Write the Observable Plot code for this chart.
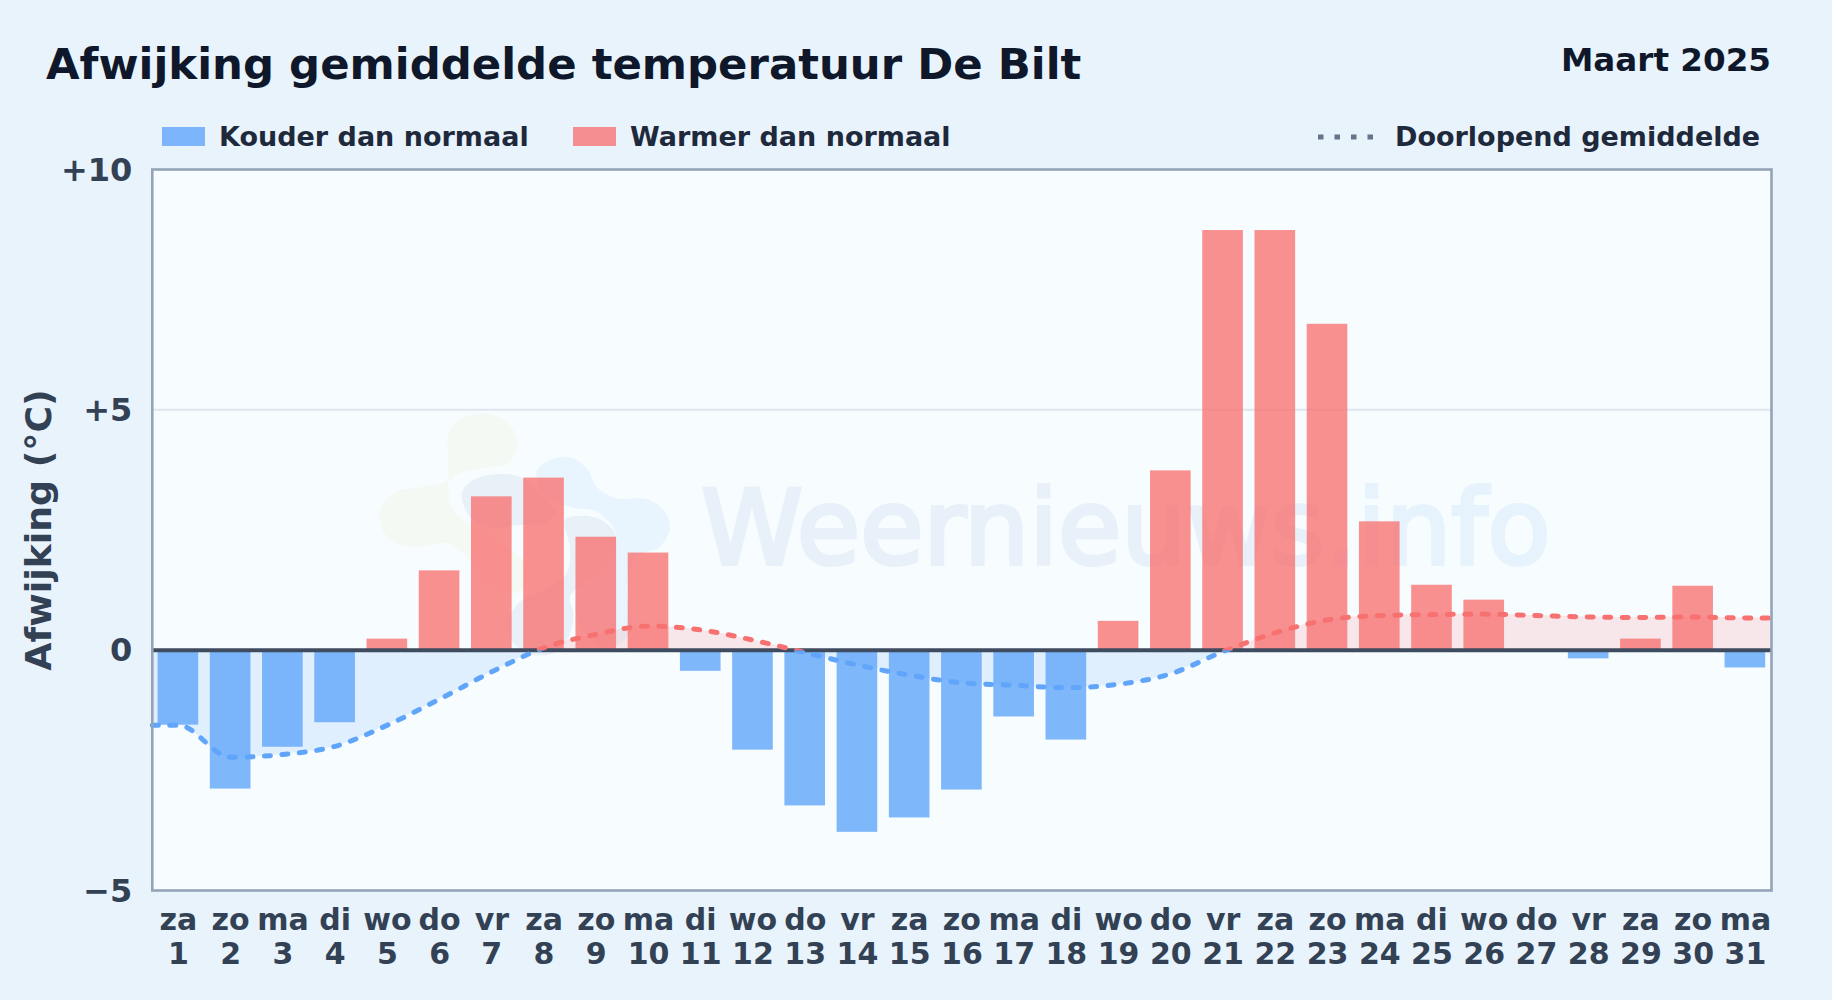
<!DOCTYPE html>
<html>
<head>
<meta charset="utf-8">
<script src="https://cdn.jsdelivr.net/npm/d3@7"></script>
<script src="https://cdn.jsdelivr.net/npm/@observablehq/plot@0.6"></script>
<style>
html,body{margin:0;padding:0;width:1832px;height:1000px;overflow:hidden;background:#e8f3fc;font-family:"DejaVu Sans",sans-serif;font-weight:700}
#head{position:relative;width:1832px;height:150px}
#head>*{position:absolute;white-space:nowrap}
#title{left:46px;top:39px;font-size:43.4px;line-height:50px;color:#0f172a}
#month{right:61px;top:41px;font-size:32.6px;line-height:38px;color:#0f172a}
.lg{top:120px;font-size:27px;line-height:34px;color:#1e293b}
.sw{top:127px;height:19px;width:43px}
#chart{position:absolute;left:0;top:150px}
svg{display:block}
</style>
</head>
<body>
<div id="head">
  <div id="title">Afwijking gemiddelde temperatuur De Bilt</div>
  <div id="month">Maart 2025</div>
  <div class="sw" style="left:162px;background:#60a5fa;opacity:.8"></div>
  <div class="lg" style="left:219px">Kouder dan normaal</div>
  <div class="sw" style="left:573px;background:#f87171;opacity:.78"></div>
  <div class="lg" style="left:630px">Warmer dan normaal</div>
  <svg style="left:1318px;top:130px" width="58" height="14"><line x1="0" x2="58" y1="7" y2="7" stroke="#64748b" stroke-width="5" stroke-dasharray="5.5,11"/></svg>
  <div class="lg" style="left:1395px">Doorlopend gemiddelde</div>
</div>
<div id="chart"></div>
<script>
const days = d3.range(1, 32);
const weekdays = ["za","zo","ma","di","wo","do","vr","za","zo","ma","di","wo","do","vr","za","zo","ma","di","wo","do","vr","za","zo","ma","di","wo","do","vr","za","zo","ma"];
const deviation = [-1.56,-2.89,-2.02,-1.51,0.23,1.65,3.19,3.58,2.35,2.02,-0.44,-2.08,-3.24,-3.79,-3.49,-2.91,-1.39,-1.87,0.60,3.73,8.73,8.73,6.78,2.67,1.35,1.04,0,-0.18,0.23,1.33,-0.37];
const running = [-1.56,-2.23,-2.17,-2.0,-1.56,-1.02,-0.45,0.05,0.33,0.5,0.42,0.21,-0.05,-0.31,-0.52,-0.68,-0.73,-0.78,-0.71,-0.49,-0.03,0.36,0.63,0.72,0.74,0.75,0.72,0.69,0.68,0.69,0.67];
const yTicks = [-5,0,5,10];

const bars = days.map((d,i)=>({day:d, value:deviation[i]}));
const runLine = [{day:0.5,value:running[0]}, ...days.map((d,i)=>({day:d,value:running[i]})), {day:31.5,value:running[30]}];

const BLUE="#60a5fa", RED="#f87171";

let clipN=0;
function side(sign){
  return function(index,scales,values,dims,ctx,next){
    const g = next(index,scales,values,dims,ctx);
    const id = "side"+(++clipN), y0 = scales.y(0);
    const top = sign>0 ? 0 : y0;
    const h = sign>0 ? y0 : dims.height-y0;
    const cp = d3.select(g).append("clipPath").attr("id",id);
    cp.append("rect").attr("x",0).attr("y",top).attr("width",dims.width).attr("height",h);
    g.setAttribute("clip-path",`url(#${id})`);
    return g;
  };
}

function watermark(){
  const g = d3.create("svg:g").attr("pointer-events","none");
  const blob = d3.line().curve(d3.curveCatmullRomClosed);
  const logo = g.append("g").attr("transform","translate(370,250) scale(0.3333)");
  const shapes = [
   ["#f4faf3",[[235,100],[270,58],[340,40],[410,65],[442,125],[420,185],[340,205],[280,215],[225,245],[150,262],[70,280],[28,340],[55,415],[135,442],[230,430],[290,470],[370,560],[450,575],[470,500],[350,400],[250,330],[235,170]]],
   ["#e8f5fe",[[500,215],[540,180],[600,172],[650,205],[680,260],[740,295],[830,298],[885,335],[900,385],[870,440],[800,470],[770,560],[780,700],[700,745],[620,650],[640,520],[740,420],[690,340],[600,320],[520,285]]],
   ["#e8f0f8",[[275,280],[310,240],[390,222],[460,235],[520,290],[560,340],[520,370],[440,375],[360,385],[300,350]]],
   ["#e8f0f8",[[585,360],[650,348],[710,370],[740,420],[700,500],[640,550],[600,590],[610,640],[600,700],[560,755],[490,765],[430,730],[415,670],[445,610],[520,570],[590,520],[600,440]]]
  ];
  for (const [c,p] of shapes) logo.append("path").attr("d",blob(p)).attr("fill",c);
  const t = g.append("text").attr("x",701).attr("y",414).attr("text-anchor","start").attr("font-size",103).attr("font-weight",400).attr("font-family","DejaVu Sans").attr("stroke-width",4);
  t.append("tspan").attr("fill","#e8f1f9").attr("stroke","#e8f1f9").text("Weernieuws");
  t.append("tspan").attr("fill","#e6f3fd").attr("stroke","#e6f3fd").text(".info");
  return g.node();
}

const plot = Plot.plot({
  width:1832, height:850,
  marginLeft:151.8, marginRight:61, marginTop:19, marginBottom:110,
  style:{background:"transparent",fontFamily:"DejaVu Sans",overflow:"visible"},
  x:{type:"linear",domain:[0.5,31.5]},
  y:{domain:[-5,10]},
  marks:[
    Plot.frame({fill:"#f7fcff",stroke:null}),
    Plot.ruleY([5],{stroke:"#e0e6ed",strokeWidth:2}),
    watermark,
    Plot.areaY(runLine,{x:"day",y1:0,y2:"value",curve:"monotone-x",fill:BLUE,fillOpacity:.15,render:side(-1)}),
    Plot.areaY(runLine,{x:"day",y1:0,y2:"value",curve:"monotone-x",fill:RED,fillOpacity:.15,render:side(1)}),
    Plot.rectY(bars,{x1:d=>d.day-0.5,x2:d=>d.day+0.5,y1:0,y2:"value",insetLeft:5.8,insetRight:5.8,fill:d=>d.value<0?BLUE:RED,fillOpacity:d=>d.value<0?.8:.78}),
    Plot.ruleY([0],{stroke:"#3f4b5f",strokeWidth:4}),
    Plot.lineY(runLine,{x:"day",y:"value",curve:"monotone-x",stroke:BLUE,strokeWidth:5,strokeDasharray:"6,11.5",strokeLinecap:"round",render:side(-1)}),
    Plot.lineY(runLine,{x:"day",y:"value",curve:"monotone-x",stroke:RED,strokeWidth:5,strokeDasharray:"6,11.5",strokeLinecap:"round",render:side(1)}),
    Plot.frame({stroke:"#94a3b8",strokeWidth:2.6}),
    Plot.axisY({ticks:yTicks,tickSize:0,tickPadding:20,label:null,fontSize:32,fontWeight:700,fill:"#334155",dy:1,
      tickFormat:d=>d>0?"+"+d:d<0?"\u2212"+(-d):"0"}),
    Plot.axisX({ticks:days,tickSize:0,tickPadding:15,label:null,fontSize:30,fontWeight:700,fill:"#334155",lineHeight:1.15,
      tickFormat:d=>weekdays[d-1]+"\n"+d}),
    Plot.text([0],{y:()=>2.5,text:()=>"Afwijking (\u00b0C)",frameAnchor:"left",textAnchor:"middle",rotate:-90,dx:-113.3,fontSize:36.3,fontWeight:700,fill:"#334155"})
  ]
});
document.getElementById("chart").appendChild(plot);
</script>
</body>
</html>
